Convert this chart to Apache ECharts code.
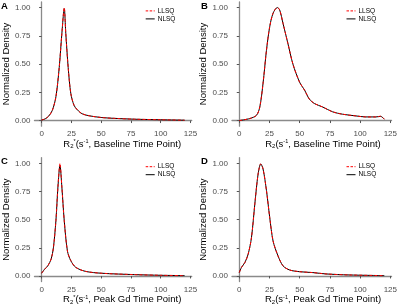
<!DOCTYPE html>
<html>
<head>
<meta charset="utf-8">
<script src="https://cdn.jsdelivr.net/npm/echarts@6/dist/echarts.min.js"></script>
<style>
html, body { margin: 0; padding: 0; background: #fff; }
#chart { width: 400px; height: 308px; }
</style>
</head>
<body>
<div id="chart"></div>
<script>
// density curves, x in s^-1, y normalized
var xA = [0, 3, 6, 9, 12, 14.8, 17, 19, 20.3, 22.3, 24.5, 27.2, 30, 34, 40, 50, 60, 78, 100, 120];
var llsqA = [0.005, 0.015, 0.04, 0.09, 0.21, 0.475, 0.77, 1.0, 0.77, 0.47, 0.24, 0.135, 0.095, 0.06, 0.042, 0.027, 0.02, 0.012, 0.007, 0.003];
var nlsqA = [0.005, 0.015, 0.04, 0.09, 0.21, 0.47, 0.77, 0.99, 0.77, 0.47, 0.24, 0.135, 0.095, 0.06, 0.042, 0.027, 0.02, 0.012, 0.007, 0.003];

var xB = [0, 8.8, 14.3, 17, 19.7, 22.5, 25.2, 28, 31.5, 33.4, 36.2, 40.3, 44.4, 49.9, 54, 58, 62.3, 69, 77.3, 85.5, 96.5, 104.7, 113, 117, 120];
var llsqB = [0, 0.018, 0.047, 0.12, 0.33, 0.62, 0.83, 0.95, 1.0, 0.98, 0.86, 0.68, 0.5, 0.34, 0.27, 0.19, 0.15, 0.12, 0.077, 0.056, 0.041, 0.032, 0.032, 0.038, 0.012];
var nlsqB = [0, 0.018, 0.047, 0.12, 0.33, 0.62, 0.83, 0.95, 1.0, 0.98, 0.86, 0.68, 0.5, 0.34, 0.27, 0.19, 0.15, 0.12, 0.077, 0.056, 0.041, 0.032, 0.032, 0.037, 0.012];

var xC = [0, 2.5, 5.2, 8, 9.9, 12, 13.7, 15.4, 17, 19, 21.7, 24.5, 28.6, 36.8, 50.5, 78, 100, 120];
var llsqC = [0.024, 0.06, 0.09, 0.15, 0.25, 0.49, 0.79, 1.0, 0.79, 0.49, 0.22, 0.136, 0.077, 0.041, 0.024, 0.012, 0.006, 0.003];
var nlsqC = [0.024, 0.06, 0.09, 0.15, 0.25, 0.49, 0.79, 0.98, 0.79, 0.49, 0.22, 0.136, 0.077, 0.041, 0.024, 0.012, 0.006, 0.003];

var xD = [0, 1.9, 4.7, 7.4, 10.1, 12.9, 15.6, 17.8, 19.7, 22.5, 25.2, 28, 32, 36.2, 41.7, 49.9, 60.9, 71.8, 91, 120];
var llsqD = [0.03, 0.077, 0.12, 0.195, 0.34, 0.64, 0.905, 0.995, 0.95, 0.76, 0.52, 0.31, 0.18, 0.09, 0.053, 0.038, 0.03, 0.018, 0.009, 0.003];
var nlsqD = [0.03, 0.077, 0.12, 0.195, 0.34, 0.64, 0.905, 0.995, 0.95, 0.76, 0.52, 0.31, 0.18, 0.09, 0.053, 0.038, 0.03, 0.018, 0.009, 0.003];

var xTicks = [0, 25, 50, 75, 100, 125];
var yTicks = [0, 0.25, 0.5, 0.75, 1];
var panelLetters = ['A', 'B', 'C', 'D'];
var xTitles = [
    ['R', '2', '*', 'Baseline Time Point)'],
    ['R', '2', '', 'Baseline Time Point)'],
    ['R', '2', '*', 'Peak Gd Time Point)'],
    ['R', '2', '', 'Peak Gd Time Point)']
];

var font = 'Liberation Sans, Arial, sans-serif';
var panels = [
    { x: xA, l: llsqA, n: nlsqA, left: 31.2, top: 1.9, h: 124.3 },
    { x: xB, l: llsqB, n: nlsqB, left: 232, top: 1.9, h: 124.3 },
    { x: xC, l: llsqC, n: nlsqC, left: 31.2, top: 157.7, h: 123.9 },
    { x: xD, l: llsqD, n: nlsqD, left: 232, top: 157.7, h: 123.9 }
];
var panelW = 160.5;

function pairs(xs, ys) {
    return xs.map(function (v, i) { return [v, ys[i]]; });
}

var grid = [], xAxis = [], yAxis = [], series = [], legend = [], graphic = [];
panels.forEach(function (p, i) {
    grid.push({ left: p.left, top: p.top, width: panelW, height: p.h });
    xAxis.push({
        type: 'value', gridIndex: i, min: -6, max: 126,
        axisLine: { lineStyle: { color: '#8a8a8a', width: 1.3 } },
        axisTick: { customValues: xTicks, length: 2.5, lineStyle: { color: '#555' } },
        axisLabel: { customValues: xTicks, color: '#4d4d4d', fontSize: 8, fontFamily: font, margin: 4 },
        splitLine: { show: false }
    });
    yAxis.push({
        type: 'value', gridIndex: i, min: -0.05, max: 1.05,
        name: 'Normalized Density', nameLocation: 'middle', nameGap: 20,
        nameTextStyle: { color: '#000', fontSize: 9.5, fontFamily: font },
        axisLine: { show: true, lineStyle: { color: '#8a8a8a', width: 1.3 } },
        axisTick: { show: true, customValues: yTicks, length: 2.5, lineStyle: { color: '#555' } },
        axisLabel: {
            customValues: yTicks, color: '#4d4d4d', fontSize: 8, fontFamily: font, margin: 4,
            formatter: function (v) { return v.toFixed(2); }
        },
        splitLine: { show: false }
    });
    series.push({
        name: 'NLSQ', type: 'line', xAxisIndex: i, yAxisIndex: i,
        data: pairs(p.x, p.n), smooth: 0.3, symbol: 'none',
        lineStyle: { color: '#000', width: 1 }, itemStyle: { color: '#000' }
    });
    series.push({
        name: 'LLSQ', type: 'line', xAxisIndex: i, yAxisIndex: i,
        data: pairs(p.x, p.l), smooth: 0.3, symbol: 'none',
        lineStyle: { color: '#ff0000', width: 1, type: [3, 2] }, itemStyle: { color: '#ff0000' }
    });
    legend.push({
        data: [
            { name: 'LLSQ', itemStyle: { opacity: 0 }, lineStyle: { color: '#ff0000', width: 1, type: [2.5, 1.5] } },
            { name: 'NLSQ', itemStyle: { opacity: 0 }, lineStyle: { color: '#000', width: 1, type: 'solid' } }
        ],
        orient: 'vertical',
        left: p.left + 114, top: p.top + 5.5, padding: 0,
        itemWidth: 9, itemHeight: 6, itemGap: 1, selectedMode: false,
        textStyle: { fontSize: 6.5, fontFamily: font, color: '#000', padding: [0, 0, 0, -2] }
    });
    graphic.push({
        type: 'text', left: i % 2 ? 201 : 1, top: i < 2 ? 1 : 156,
        style: { text: panelLetters[i], font: 'bold 9.5px ' + font, fill: '#000' }
    });
    var t = xTitles[i];
    var txt = '{n|' + t[0] + '}{sub|' + t[1] + '}' + (t[2] ? '{sup|' + t[2] + '}' : '') +
        '{n|(s}{sup|-1}{n|, ' + t[3] + '}';
    graphic.push({
        type: 'text', x: p.left + 91, y: p.top + p.h + 18,
        style: {
            text: txt, align: 'center', verticalAlign: 'middle', fill: '#000',
            rich: {
                n: { fontSize: 9.5, fontFamily: font, fill: '#000' },
                sub: { fontSize: 6, fontFamily: font, fill: '#000', padding: [5, 0, 0, 0] },
                sup: { fontSize: 5.5, fontFamily: font, fill: '#000', padding: [0, 0, 5, 0] }
            }
        }
    });
});

var myChart = echarts.init(document.getElementById('chart'), null, { renderer: 'canvas' });
myChart.setOption({
    animation: false,
    backgroundColor: '#fff',
    grid: grid,
    xAxis: xAxis,
    yAxis: yAxis,
    legend: legend,
    series: series,
    graphic: graphic
});
</script>
</body>
</html>
